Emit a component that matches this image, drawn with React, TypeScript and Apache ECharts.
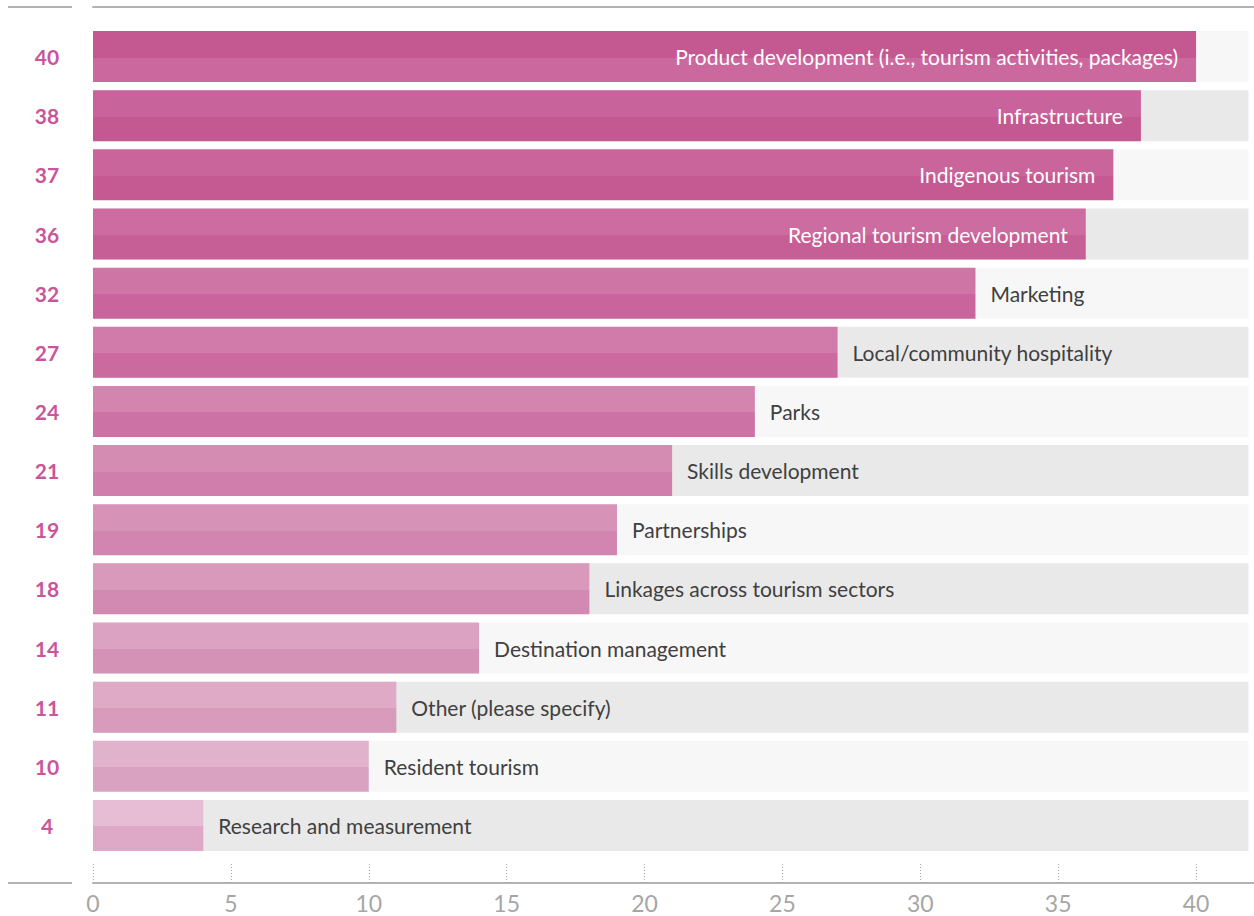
import React, { useEffect, useRef } from "react";
import * as echarts from "echarts";

const categories = [
  "Product development (i.e., tourism activities, packages)",
  "Infrastructure",
  "Indigenous tourism",
  "Regional tourism development",
  "Marketing",
  "Local/community hospitality",
  "Parks",
  "Skills development",
  "Partnerships",
  "Linkages across tourism sectors",
  "Destination management",
  "Other (please specify)",
  "Resident tourism",
  "Research and measurement",
];
const values = [40, 38, 37, 36, 32, 27, 24, 21, 19, 18, 14, 11, 10, 4];
const xTicks = [0, 5, 10, 15, 20, 25, 30, 35, 40];

const topColors = [
  "#c45891", "#c9639b", "#ca659c", "#cc6ca0", "#cf75a6", "#d07ba9", "#d385b0",
  "#d48cb3", "#d692b7", "#d899bb", "#dba2c1", "#deaac6", "#e1b2cb", "#e6bdd4",
];
const bottomColors = [
  "#cb699e", "#c45891", "#c55a93", "#c75f97", "#c9659c", "#cb6a9f", "#cd72a5",
  "#d07eab", "#d185b0", "#d38ab2", "#d592b7", "#d89bbc", "#daa2c1", "#dea9c6",
];
const bgColors = ["#f7f7f7", "#e9e9e9"];
const FONT = "Lato, 'Open Sans', sans-serif";

export default function App() {
  const ref = useRef<HTMLDivElement>(null);
  useEffect(() => {
    if (!ref.current) return;
    const chart = echarts.init(ref.current, undefined, { renderer: "svg" });
    const axisMax = 42.1;
    const bgValue = 41.9;
    const option: any = {
      animation: false,
      textStyle: { fontFamily: FONT },
      grid: { left: 93, right: 0, top: 27, bottom: 61, containLabel: false },
      xAxis: [
        {
          type: "value",
          min: 0,
          max: axisMax,
          interval: 5,
          position: "bottom",
          offset: 28,
          axisLine: { show: true, lineStyle: { color: "#b3b3b3", width: 2 } },
          axisTick: {
            show: true,
            inside: true,
            length: 19,
            lineStyle: { color: "#a8a8a8", type: [1, 2], width: 1 },
          },
          axisLabel: {
            color: "#a6a6a6",
            fontSize: 23,
            margin: 8,
            fontFamily: FONT,
            showMaxLabel: false,
            formatter: (v: number) => (xTicks.indexOf(v) >= 0 ? String(v) : ""),
          },
          splitLine: { show: false },
        },
        {
          type: "value",
          min: 0,
          max: axisMax,
          position: "top",
          offset: 20,
          axisLine: { show: true, lineStyle: { color: "#b3b3b3", width: 2 } },
          axisTick: { show: false },
          axisLabel: { show: false },
          splitLine: { show: false },
        },
      ],
      yAxis: {
        type: "category",
        inverse: true,
        data: categories,
        axisLine: { show: false },
        axisTick: { show: false },
        axisLabel: {
          formatter: (_v: string, i: number) => String(values[i]),
          align: "center",
          margin: 46,
          color: "#c9559a",
          fontWeight: "bold",
          fontSize: 21,
          fontFamily: FONT,
        },
      },
      graphic: [
        { type: "line", shape: { x1: 8, y1: 7, x2: 72, y2: 7 }, style: { stroke: "#b3b3b3", lineWidth: 2 } },
        { type: "line", shape: { x1: 8, y1: 883, x2: 72, y2: 883 }, style: { stroke: "#b3b3b3", lineWidth: 2 } },
      ],
      series: [
        {
          type: "bar",
          barWidth: 51,
          barGap: "-100%",
          silent: true,
          data: categories.map((_c, i) => ({
            value: bgValue,
            itemStyle: { color: bgColors[i % 2] },
          })),
          label: { show: false },
          z: 1,
        },
        {
          type: "bar",
          barWidth: 51,
          barGap: "-100%",
          z: 2,
          data: values.map((v, i) => {
            const inside = i < 4;
            return {
              value: v,
              itemStyle: {
                color: new echarts.graphic.LinearGradient(0, 0, 0, 1, [
                  { offset: 0, color: topColors[i] },
                  { offset: 0.52, color: topColors[i] },
                  { offset: 0.52, color: bottomColors[i] },
                  { offset: 1, color: bottomColors[i] },
                ]),
              },
              label: {
                show: true,
                position: inside ? "insideRight" : "right",
                distance: inside ? 18 : 15,
                color: inside ? "#ffffff" : "#404040",
                fontSize: 21,
                fontFamily: FONT,
                formatter: "{b}",
              },
            };
          }),
        },
      ],
    };
    chart.setOption(option);
    return () => chart.dispose();
  }, []);
  return (
    <div
      ref={ref}
      style={{ position: "fixed", left: 0, top: 0, width: 1254, height: 916, background: "#ffffff" }}
    />
  );
}
